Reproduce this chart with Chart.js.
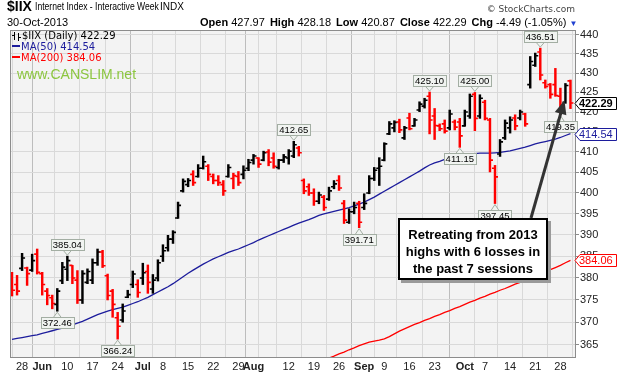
<!DOCTYPE html>
<html>
<head>
<meta charset="utf-8">
<title>$IIX Internet Index - Interactive Week</title>
<script src="https://cdn.jsdelivr.net/npm/chart.js@4.4.0/dist/chart.umd.min.js"></script>
<style>
  body { margin: 0; background: #fff; }
  #box { position: relative; width: 618px; height: 373px; font-family: Arial, "Liberation Sans", sans-serif; color: #000; overflow: hidden; }
  #box canvas { position: absolute; left: 0; top: 0; }
  .abs { position: absolute; white-space: nowrap; }
  #sym { left: 7px; top: -1px; font-size: 14px; line-height: 14px; font-weight: bold; }
  #ttl { left: 35px; top: 1px; font-size: 11px; line-height: 11px; transform: scaleX(0.78); transform-origin: 0 0; }
  #indx { left: 160px; top: 2px; font-size: 10px; line-height: 10px; }
  #sc { right: 43px; top: 4px; font-family: "DejaVu Sans", Verdana, sans-serif; font-size: 9px; line-height: 10px; color: #444; }
  #dt { left: 7px; top: 17px; font-size: 11px; line-height: 11px; }
  #ohlc { left: 200px; top: 17px; font-size: 11px; line-height: 11px; }
  #ohlc b { margin-left: 2px; }
  #ohlc b:first-child { margin-left: 0; }
  #ohlc .dn { color: #1f3fd0; font-size: 8px; margin-left: 3px; }
  .leg { left: 22px; font-family: "DejaVu Sans", Verdana, sans-serif; font-size: 10px; line-height: 12px; }
  .leg i { display: inline-block; width: 8px; height: 2px; margin: 0 1px 3px -10px; vertical-align: middle; }
  #wm { left: 17px; top: 66px; font-size: 14px; color: #8cc63f; }
  #note { left: 398px; top: 218px; width: 150px; height: 62px; box-sizing: border-box; border: 2px solid #000;
          background: #fff; box-shadow: 3px 3px 0 #9a9a9a; font-weight: bold; font-size: 13px; line-height: 17px;
          text-align: center; padding-top: 6px; white-space: normal; }
</style>
</head>
<body>
<div id="box">
  <canvas id="chart" width="618" height="373"></canvas>
  <div class="abs" id="sym">$IIX</div>
  <div class="abs" id="ttl">Internet Index - Interactive Week</div>
  <div class="abs" id="indx">INDX</div>
  <div class="abs" id="sc">&copy; StockCharts.com</div>
  <div class="abs" id="dt">30-Oct-2013</div>
  <div class="abs" id="ohlc"><b>Open</b> 427.97 <b>High</b> 428.18 <b>Low</b> 420.87 <b>Close</b> 422.29 <b>Chg</b> -4.49 (-1.05%)<span class="dn">&#9660;</span></div>
  <div class="abs leg" style="top:30px">$IIX (Daily) 422.29</div>
  <div class="abs leg" style="top:41px;color:#1c1c9c"><i style="background:#1c1c9c"></i>MA(50) 414.54</div>
  <div class="abs leg" style="top:52px;color:#ff0000"><i style="background:#ff0000"></i>MA(200) 384.06</div>
  <div class="abs" id="wm">www.CANSLIM.net</div>
  <div class="abs" id="note">Retreating from 2013<br>highs with 6 losses in<br>the past 7 sessions</div>
</div>
<script>
const dates = [
  '05-23','05-24','05-28','05-29','05-30','05-31',
  '06-03','06-04','06-05','06-06','06-07','06-10','06-11','06-12','06-13','06-14',
  '06-17','06-18','06-19','06-20','06-21','06-24','06-25','06-26','06-27','06-28',
  '07-01','07-02','07-03','07-05','07-08','07-09','07-10','07-11','07-12','07-15','07-16','07-17','07-18','07-19',
  '07-22','07-23','07-24','07-25','07-26','07-29','07-30','07-31',
  '08-01','08-02','08-05','08-06','08-07','08-08','08-09','08-12','08-13','08-14','08-15','08-16',
  '08-19','08-20','08-21','08-22','08-23','08-26','08-27','08-28','08-29','08-30',
  '09-03','09-04','09-05','09-06','09-09','09-10','09-11','09-12','09-13','09-16','09-17','09-18','09-19','09-20',
  '09-23','09-24','09-25','09-26','09-27','09-30',
  '10-01','10-02','10-03','10-04','10-07','10-08','10-09','10-10','10-11','10-14','10-15','10-16','10-17','10-18',
  '10-21','10-22','10-23','10-24','10-25','10-28','10-29','10-30'
];

const opens = [
  380.8, 378.5, 382.2, 382.3, 381.8, 385.5,
  381.0, 377.0, 375.5, 374.0, 379.4, 382.0, 382.9, 379.5, 375.0, 379.0,
  379.5, 383.5, 386.0, 380.5, 377.0, 371.0, 370.5, 375.6, 378.5, 378.5,
  380.0, 381.5, 377.5, 380.0, 385.0, 387.0, 389.0, 394.0, 400.5, 402.0, 404.5, 404.0, 406.0, 406.5,
  404.0, 403.0, 402.0, 404.0, 403.5, 404.0, 404.5, 406.0,
  408.0, 408.5, 408.0, 410.0, 408.5, 406.2, 408.0, 408.5, 409.0, 411.0, 403.0, 401.5,
  400.0, 398.0, 399.0, 398.5, 401.5, 403.0, 397.5, 393.0, 395.5, 397.5,
  396.5, 400.0, 403.5, 406.0, 408.0, 414.5, 416.0, 417.5, 413.5, 418.5, 416.5, 420.5, 421.5, 424.0,
  419.0, 416.5, 417.0, 416.0, 417.5, 417.5,
  416.5, 419.0, 424.5, 419.0, 422.5, 418.0, 406.0, 409.5, 413.5, 416.0, 418.5, 418.5, 419.5, 427.0,
  432.0, 435.5, 427.5, 427.0, 427.0, 424.0, 422.5, 427.97
];

const highs = [
  381.3, 380.6, 385.7, 382.5, 385.5, 386.7,
  381.3, 377.6, 376.1, 377.6, 383.6, 385.04, 382.9, 381.7, 381.7, 382.1,
  384.4, 386.7, 386.4, 380.9, 377.4, 372.2, 374.1, 377.2, 381.6, 379.6,
  383.4, 383.0, 380.8, 384.2, 387.7, 389.9, 391.0, 397.8, 403.4, 403.5, 405.4, 406.9, 409.0, 406.9,
  404.6, 404.2, 403.0, 406.9, 404.8, 405.2, 406.6, 408.2,
  409.4, 408.6, 410.2, 410.6, 409.8, 408.2, 409.4, 410.6, 412.65, 411.4, 403.4, 402.2,
  401.0, 400.2, 399.4, 401.4, 403.0, 404.2, 398.2, 396.2, 397.8, 398.0,
  399.8, 404.2, 406.2, 408.6, 412.3, 417.6, 417.8, 418.2, 416.4, 419.7, 418.4, 422.6, 423.5, 425.10,
  420.9, 417.0, 418.0, 420.5, 418.0, 418.4,
  420.5, 424.6, 425.00, 424.4, 423.0, 418.4, 406.7, 413.1, 418.0, 418.8, 419.3, 420.5, 419.7, 434.3,
  435.2, 436.51, 428.2, 427.3, 431.2, 426.1, 427.3, 428.18
];

const lows = [
  375.9, 376.1, 381.7, 378.3, 381.5, 380.9,
  376.1, 373.9, 373.0, 372.46, 378.7, 379.4, 378.7, 374.2, 374.2, 378.7,
  378.7, 382.9, 382.4, 375.0, 371.1, 366.24, 370.0, 375.5, 377.8, 375.6,
  378.5, 376.5, 376.5, 379.3, 383.8, 386.2, 388.0, 393.9, 400.2, 401.5, 401.8, 403.8, 405.8, 403.0,
  402.2, 401.8, 399.4, 403.8, 401.0, 401.8, 403.4, 405.4,
  407.0, 406.2, 407.8, 406.6, 406.0, 405.8, 407.4, 407.0, 408.6, 409.0, 399.8, 399.4,
  397.0, 397.4, 395.8, 398.2, 401.0, 400.6, 392.7, 392.7, 395.0, 391.71,
  396.0, 399.8, 403.0, 401.8, 407.8, 414.3, 415.0, 414.8, 413.1, 415.5, 416.4, 420.1, 421.0, 414.5,
  413.1, 415.3, 414.7, 415.5, 415.5, 411.15,
  416.4, 418.4, 415.3, 418.4, 418.0, 405.1, 397.45, 408.9, 413.1, 414.7, 415.5, 418.0, 416.4, 426.1,
  431.7, 428.2, 426.1, 423.5, 424.0, 419.35, 422.2, 420.87
];

const closes = [
  377.2, 377.0, 384.6, 381.0, 384.0, 381.3,
  378.5, 376.0, 374.2, 377.0, 382.5, 384.0, 380.0, 375.0, 381.0, 381.5,
  383.5, 386.0, 382.8, 376.0, 374.0, 369.1, 372.5, 376.2, 380.9, 376.7,
  381.2, 379.0, 379.5, 383.5, 386.3, 389.0, 390.6, 397.0, 402.8, 403.0, 402.5, 406.0, 407.6, 404.5,
  403.0, 402.5, 400.5, 406.2, 404.2, 402.5, 405.5, 407.4,
  409.0, 407.0, 409.8, 407.5, 406.5, 408.0, 408.8, 410.2, 411.8, 409.8, 400.5, 400.0,
  398.0, 399.5, 396.5, 400.5, 402.2, 401.2, 393.5, 395.5, 396.5, 393.0,
  397.5, 403.5, 405.5, 406.5, 412.0, 417.0, 417.4, 415.5, 416.0, 415.8, 418.0, 422.0, 423.0, 418.0,
  416.6, 415.8, 415.2, 419.5, 416.2, 414.0,
  420.0, 424.0, 418.4, 423.5, 418.4, 408.0, 403.9, 412.5, 417.2, 418.0, 416.5, 420.0, 417.0, 433.0,
  434.5, 429.5, 426.5, 424.5, 424.2, 421.0, 426.78, 422.29
];

const ma50 = [
  366.2, 366.4, 366.6, 366.8, 367.0, 367.2,
  367.5, 367.8, 368.1, 368.4, 368.7, 369.0, 369.4, 369.8, 370.2, 370.7,
  371.2, 371.7, 372.1, 372.5, 372.8, 373.1, 373.4, 373.8, 374.2, 374.6,
  375.1, 375.6, 376.2, 376.8, 377.4, 378.0, 378.7, 379.5, 380.3, 381.1, 381.8, 382.5, 383.2, 383.8,
  384.4, 384.9, 385.4, 385.9, 386.3, 386.7, 387.2, 387.7,
  388.2, 388.8, 389.3, 389.8, 390.3, 390.8, 391.3, 391.8, 392.3, 392.8, 393.2, 393.6,
  394.1, 394.6, 395.0, 395.3, 395.6, 395.9, 396.2, 396.5, 396.9, 397.3,
  397.8, 398.4, 399.0, 399.7, 400.4, 401.1, 401.8, 402.5, 403.2, 403.9, 404.6, 405.3, 406.1, 406.8,
  407.3, 407.7, 408.2, 408.6, 408.9, 409.2,
  409.4, 409.5, 409.6, 409.7, 409.7, 409.7, 409.8, 409.9, 410.1, 410.3, 410.6, 410.9, 411.2, 411.6,
  412.0, 412.3, 412.6, 412.9, 413.2, 413.6, 414.1, 414.54
];

const ma200 = [
  null, null, null, null, null, null,
  null, null, null, null, null, null, null, null, null, null,
  null, null, null, null, null, null, null, null, null, null,
  null, null, null, null, null, null, null, null, null, null, null, null, null, null,
  null, null, null, null, null, null, null, null,
  null, null, null, null, null, null, null, null, null, null, 359.8, 360.3,
  360.7, 361.2, 361.6, 362.1, 362.5, 363.0, 363.4, 363.9, 364.3, 364.8,
  365.2, 365.6, 365.8, 366.0, 366.3, 366.8, 367.4, 368.0, 368.5, 369.0, 369.5, 369.9, 370.4, 370.8,
  371.3, 371.7, 372.2, 372.6, 373.1, 373.5,
  374.0, 374.5, 374.9, 375.4, 375.8, 376.3, 376.7, 377.2, 377.6, 378.1, 378.6, 379.0, 379.5, 380.0,
  380.5, 380.9, 381.4, 381.9, 382.4, 382.9, 383.5, 384.06
];

const tickDays = ['05-28','06-03','06-10','06-17','06-24','07-01','07-08','07-15','07-22','07-29','08-01','08-05',
                  '08-12','08-19','08-26','09-03','09-09','09-16','09-23','10-01','10-07','10-14','10-21','10-28'];
const tickText = ['28','Jun','10','17','24','Jul','8','15','22','29','Aug','',
                  '12','19','26','Sep','9','16','23','Oct','7','14','21','28'];
const monthNames = ['Jun', 'Jul', 'Aug', 'Sep', 'Oct'];
const yTicks = [365, 370, 375, 380, 385, 390, 395, 400, 405, 410, 415, 420, 425, 430, 435, 440];

const highMarks = ['06-10', '08-13', '09-20', '10-03', '10-22'];
const lowMarks = ['06-06', '06-24', '08-30', '09-30', '10-09', '10-28'];

const RED = '#ff0000';
const BLUE = '#1c1c9c';
const FONT = 'Arial, "Liberation Sans", sans-serif';

const tickIdx = tickDays.map(d => dates.indexOf(d));
const labelAt = v => {
  const k = tickIdx.indexOf(v);
  return k < 0 ? '' : tickText[k];
};
const barColor = i => {
  const prev = i > 0 ? closes[i - 1] : opens[i];
  return closes[i] < prev ? RED : '#000';
};

function callout(ctx, px, py, text, above) {
  ctx.font = '9.5px ' + FONT;
  const w = Math.round(ctx.measureText(text).width) + 4;
  const h = 11;
  const bx = Math.round(px - w / 2) + 0.5;
  const by = above ? Math.round(py - 6 - h) + 0.5 : Math.round(py + 6) + 0.5;
  ctx.lineWidth = 1;
  ctx.strokeStyle = '#a3aea3';
  ctx.fillStyle = '#f1f4f1';
  ctx.beginPath();
  if (above) {
    ctx.moveTo(px - 4, by + h); ctx.lineTo(px, py - 1); ctx.lineTo(px + 4, by + h);
  } else {
    ctx.moveTo(px - 4, by); ctx.lineTo(px, py + 1); ctx.lineTo(px + 4, by);
  }
  ctx.fill();
  ctx.stroke();
  ctx.fillRect(bx, by, w, h);
  ctx.strokeRect(bx, by, w, h);
  ctx.fillStyle = '#000';
  ctx.textAlign = 'center';
  ctx.textBaseline = 'middle';
  ctx.fillText(text, px, by + h / 2 + 0.5);
}

function axisTag(ctx, x0, py, text, color, bold) {
  py = Math.round(py) + 0.5;
  ctx.beginPath();
  ctx.moveTo(x0, py);
  ctx.lineTo(x0 + 5, py - 6);
  ctx.lineTo(616.5, py - 6);
  ctx.lineTo(616.5, py + 6);
  ctx.lineTo(x0 + 5, py + 6);
  ctx.closePath();
  ctx.fillStyle = '#fff';
  ctx.fill();
  ctx.lineWidth = 1;
  ctx.strokeStyle = color;
  ctx.stroke();
  ctx.fillStyle = color;
  ctx.font = (bold ? 'bold ' : '') + '11px ' + FONT;
  ctx.textAlign = 'left';
  ctx.textBaseline = 'middle';
  ctx.fillText(text, x0 + 4, py + 0.5);
}

const stockPlugin = {
  id: 'stock',
  beforeDraw(chart) {
    const { ctx, chartArea: a } = chart;
    ctx.save();
    ctx.fillStyle = '#f3f3f3';
    ctx.fillRect(a.left, a.top, a.right - a.left, a.bottom - a.top);
    ctx.restore();
  },
  afterDatasetsDraw(chart) {
    const { ctx, chartArea: a, scales: { x, y } } = chart;
    ctx.save();
    ctx.beginPath();
    ctx.rect(a.left, a.top, a.right - a.left, a.bottom - a.top);
    ctx.clip();
    ctx.lineWidth = 1.6;
    dates.forEach((d, i) => {
      const px = x.getPixelForValue(i);
      const yo = y.getPixelForValue(opens[i]);
      const yc = y.getPixelForValue(closes[i]);
      ctx.strokeStyle = barColor(i);
      ctx.beginPath();
      ctx.moveTo(px - 3, yo); ctx.lineTo(px, yo);
      ctx.moveTo(px, yc); ctx.lineTo(px + 3, yc);
      ctx.stroke();
    });
    ctx.restore();
  },
  afterDraw(chart) {
    const { ctx, chartArea: a, scales: { x, y } } = chart;
    ctx.save();
    // frame
    ctx.strokeStyle = '#8c8c8c';
    ctx.lineWidth = 1;
    ctx.strokeRect(a.left + 0.5, a.top + 0.5, a.right - a.left - 1, a.bottom - a.top - 1);

    // small bar icon in the legend
    ctx.strokeStyle = '#000';
    ctx.beginPath();
    ctx.moveTo(14.5, 32); ctx.lineTo(14.5, 40); ctx.moveTo(12, 35.5); ctx.lineTo(14.5, 35.5);
    ctx.moveTo(18.5, 33); ctx.lineTo(18.5, 41); ctx.moveTo(18.5, 37.5); ctx.lineTo(21, 37.5);
    ctx.stroke();

    // high / low callouts
    highMarks.forEach(d => {
      const i = dates.indexOf(d);
      callout(ctx, x.getPixelForValue(i), y.getPixelForValue(highs[i]), highs[i].toFixed(2), true);
    });
    lowMarks.forEach(d => {
      const i = dates.indexOf(d);
      callout(ctx, x.getPixelForValue(i), y.getPixelForValue(lows[i]), lows[i].toFixed(2), false);
    });

    // arrow from the note to the latest bars
    const last = dates.length - 1;
    const tx = x.getPixelForValue(last - 1.2);
    const ty = y.getPixelForValue(423.0);
    const sx = 531, sy = 218;
    const ang = Math.atan2(ty - sy, tx - sx);
    ctx.strokeStyle = '#333';
    ctx.fillStyle = '#333';
    ctx.lineWidth = 3;
    ctx.beginPath();
    ctx.moveTo(sx, sy);
    ctx.lineTo(tx - 11 * Math.cos(ang), ty - 11 * Math.sin(ang));
    ctx.stroke();
    ctx.beginPath();
    ctx.moveTo(tx, ty);
    ctx.lineTo(tx - 14 * Math.cos(ang) + 6 * Math.sin(ang), ty - 14 * Math.sin(ang) - 6 * Math.cos(ang));
    ctx.lineTo(tx - 14 * Math.cos(ang) - 6 * Math.sin(ang), ty - 14 * Math.sin(ang) + 6 * Math.cos(ang));
    ctx.closePath();
    ctx.fill();

    // value tags on the price axis
    axisTag(ctx, a.right - 1, y.getPixelForValue(ma200[last]), ma200[last].toFixed(2), RED, false);
    axisTag(ctx, a.right - 1, y.getPixelForValue(ma50[last]), ma50[last].toFixed(2), BLUE, false);
    axisTag(ctx, a.right - 1, y.getPixelForValue(closes[last]), closes[last].toFixed(2), '#000', true);
    ctx.restore();
  }
};

Chart.defaults.font.family = FONT;

new Chart(document.getElementById('chart'), {
  data: {
    datasets: [
      {
        type: 'bar',
        label: '$IIX',
        data: dates.map((d, i) => ({ x: i, y: [lows[i], highs[i]] })),
        backgroundColor: dates.map((d, i) => barColor(i)),
        barThickness: 1.8,
        grouped: false,
        order: 0
      },
      {
        type: 'line',
        label: 'MA(50)',
        data: ma50.map((v, i) => ({ x: i, y: v })),
        borderColor: BLUE,
        borderWidth: 1.3,
        pointRadius: 0,
        order: 1
      },
      {
        type: 'line',
        label: 'MA(200)',
        data: ma200.map((v, i) => ({ x: i, y: v })),
        borderColor: RED,
        borderWidth: 1.3,
        pointRadius: 0,
        order: 1
      }
    ]
  },
  options: {
    responsive: false,
    animation: false,
    layout: { padding: { left: 10, top: 30, right: 0, bottom: 0 } },
    plugins: { legend: { display: false }, tooltip: { enabled: false } },
    scales: {
      x: {
        type: 'linear',
        min: -0.4,
        max: 112.1,
        offset: false,
        afterFit: s => { s.height = 15; },
        afterBuildTicks: s => { s.ticks = tickIdx.map(v => ({ value: v })); },
        ticks: {
          autoSkip: false,
          maxRotation: 0,
          padding: 2,
          color: '#222',
          font: c => ({ size: 11, weight: monthNames.includes(labelAt(c.tick && c.tick.value)) ? 'bold' : 'normal' }),
          callback: v => labelAt(v)
        },
        grid: {
          drawTicks: false,
          color: c => monthNames.includes(labelAt(c.tick && c.tick.value)) ? '#bdbdbd' : '#d9d9d9'
        },
        border: { display: false }
      },
      y: {
        type: 'logarithmic',
        position: 'right',
        min: 362.1,
        max: 441.3,
        afterFit: s => { s.width = 42; },
        afterBuildTicks: s => { s.ticks = yTicks.map(v => ({ value: v })); },
        ticks: {
          autoSkip: false,
          padding: 1,
          color: '#222',
          font: { size: 11 },
          callback: v => String(v)
        },
        grid: { drawTicks: true, tickLength: 3, tickColor: '#8c8c8c', color: '#d9d9d9' },
        border: { display: false }
      }
    }
  },
  plugins: [stockPlugin]
});
</script>
</body>
</html>
